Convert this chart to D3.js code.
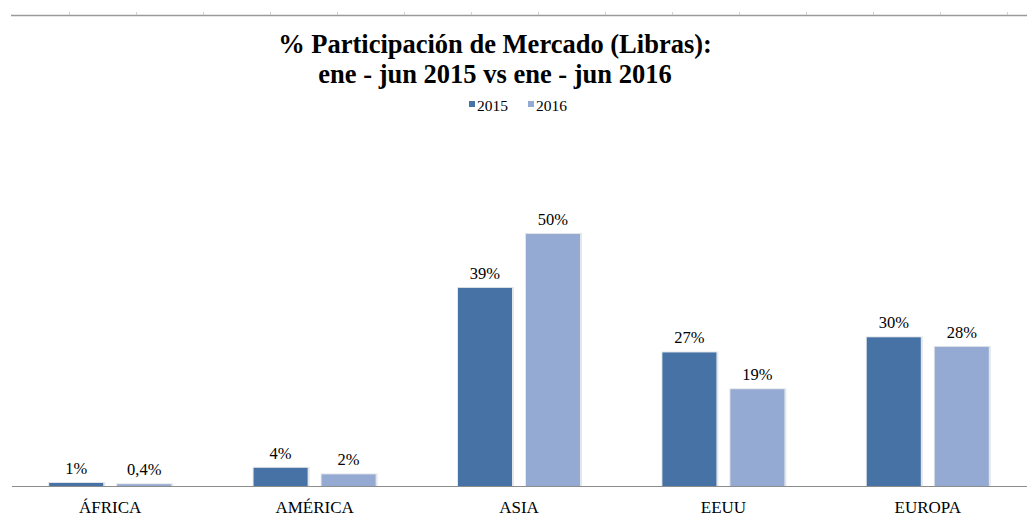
<!DOCTYPE html>
<html>
<head>
<meta charset="utf-8">
<script src="https://cdn.jsdelivr.net/npm/d3@7"></script>
</head>
<body style="margin:0;padding:0;background:#fff">
<svg id="chart" width="1027" height="517" style="display:block"></svg>
<script>
const categories = ["ÁFRICA", "AMÉRICA", "ASIA", "EEUU", "EUROPA"];
const seriesNames = ["2015", "2016"];
const values2015 = [0.6, 3.6, 39.3, 26.5, 29.5];
const values2016 = [0.35, 2.3, 50, 19.2, 27.6];
const labels2015 = ["1%", "4%", "39%", "27%", "30%"];
const labels2016 = ["0,4%", "2%", "50%", "19%", "28%"];
const colors = ["#4672A6", "#95AAD2"];
const topTicks = d3.range(15);

const FONT = "'Liberation Serif'";
const svg = d3.select("#chart");
const W = 1027, H = 517;
const baseY = 486;

const data = categories.map((c, i) => ({
  cat: c,
  vals: [
    { s: seriesNames[0], v: values2015[i], label: labels2015[i] },
    { s: seriesNames[1], v: values2016[i], label: labels2016[i] }
  ]
}));

const x0 = d3.scaleBand().domain(categories).range([8, 1030]).padding(0);
const step = x0.step();
const x1 = d3.scaleBand().domain(seriesNames).range([step / 2 - 61, step / 2 + 61]).paddingInner(14 / 68).paddingOuter(0);
const y = d3.scaleLinear().domain([0, 55]).range([baseY, baseY - 55 * 5.04]);
const color = d3.scaleOrdinal().domain(seriesNames).range(colors);

// top decorative line with small ticks
const tx = d3.scaleLinear().domain([0, 14]).range([69.3, 1006.7]);
svg.append("line").attr("x1", 11).attr("x2", W).attr("y1", 15.5).attr("y2", 15.5)
  .attr("stroke", "#9a9a9a").attr("stroke-width", 1.5);
svg.selectAll(".ttick").data(topTicks).enter().append("line")
  .attr("x1", d => Math.round(tx(d)) + 0.5).attr("x2", d => Math.round(tx(d)) + 0.5)
  .attr("y1", 12).attr("y2", 15)
  .attr("stroke", "#d0d0d0").attr("stroke-width", 1);

// title
const title = svg.append("text").attr("text-anchor", "middle")
  .style("font-family", FONT).style("font-weight", "bold").style("font-size", "26.5px").attr("fill", "#000");
title.append("tspan").attr("x", 495).attr("y", 53).text("% Participación de Mercado (Libras):");
title.append("tspan").attr("x", 495).attr("y", 83).text("ene - jun 2015 vs ene - jun 2016");

// legend
const legend = svg.append("g");
const legX = [469, 528];
seriesNames.forEach((s, i) => {
  legend.append("rect").attr("x", legX[i]).attr("y", 101).attr("width", 6).attr("height", 6)
    .attr("fill", color(s));
  legend.append("text").attr("x", legX[i] + 8).attr("y", 110.5)
    .style("font-family", FONT).style("font-size", "15.5px").attr("fill", "#000").text(s);
});

// bars
const groups = svg.selectAll(".grp").data(data).enter().append("g")
  .attr("transform", d => `translate(${x0(d.cat)},0)`);

groups.selectAll(".shadow").data(d => d.vals).enter().append("rect")
  .attr("x", d => x1(d.s) - 1)
  .attr("y", d => y(d.v) - 1)
  .attr("width", x1.bandwidth() + 3)
  .attr("height", d => baseY - y(d.v) + 1)
  .attr("fill", "#e3e6ea");

groups.selectAll(".bar").data(d => d.vals).enter().append("rect")
  .attr("x", d => x1(d.s))
  .attr("y", d => y(d.v))
  .attr("width", x1.bandwidth())
  .attr("height", d => baseY - y(d.v))
  .attr("fill", d => color(d.s));

groups.selectAll(".lbl").data(d => d.vals).enter().append("text")
  .attr("x", d => x1(d.s) + x1.bandwidth() / 2)
  .attr("y", d => y(d.v) - 9)
  .attr("text-anchor", "middle")
  .style("font-family", FONT).style("font-size", "16.5px").attr("fill", "#000")
  .text(d => d.label);

// x axis
const xAxis = d3.axisBottom(x0).tickSize(0).tickPadding(0);
const ax = svg.append("g").attr("transform", `translate(0,${baseY})`).call(xAxis);
ax.select(".domain").remove();
ax.selectAll(".tick text").attr("y", 26.5).attr("dy", 0)
  .style("font-family", FONT).style("font-size", "17px").attr("fill", "#000");
svg.append("line").attr("x1", 12).attr("x2", W).attr("y1", baseY + 0.5).attr("y2", baseY + 0.5)
  .attr("stroke", "#8c8c8c").attr("stroke-width", 1);
</script>
</body>
</html>
